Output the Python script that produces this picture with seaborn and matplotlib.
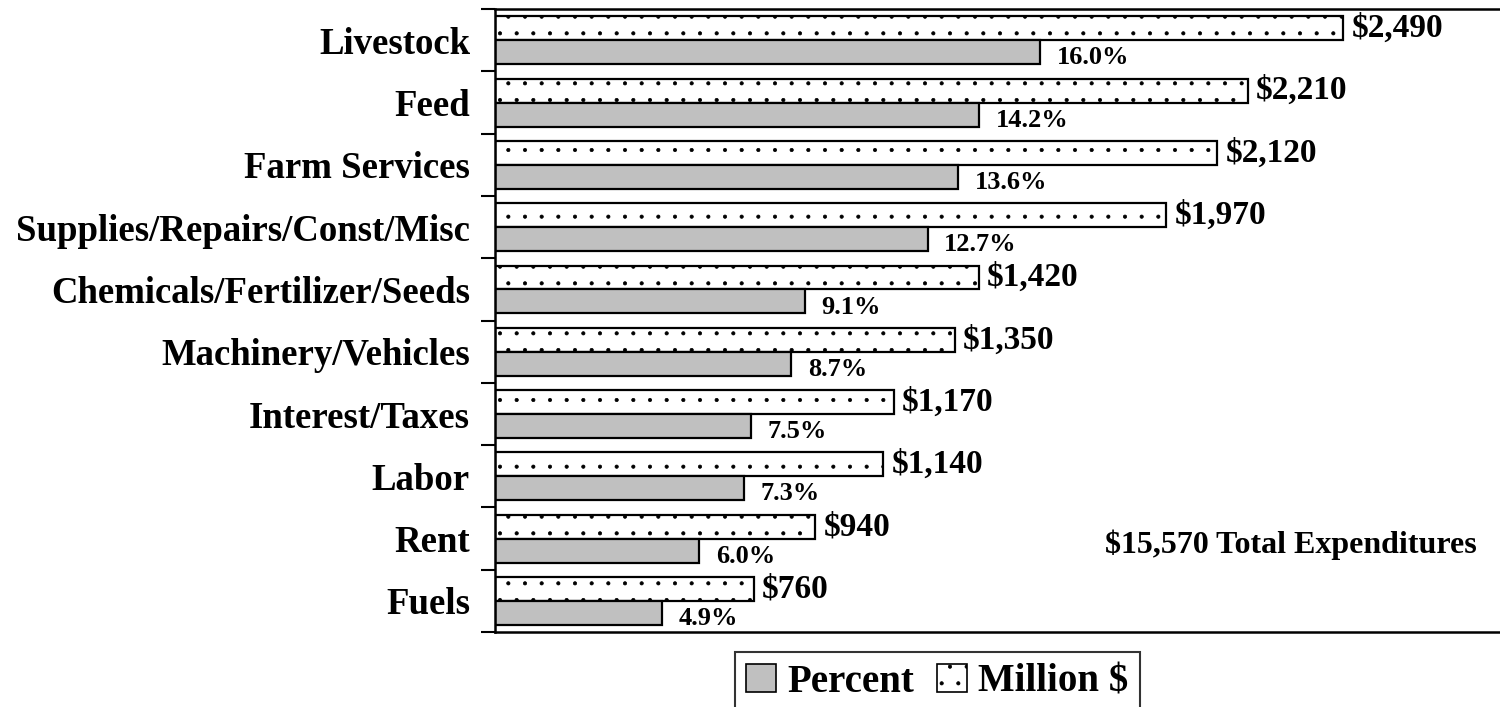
import pandas as pd
import matplotlib.pyplot as plt
import seaborn as sns
from matplotlib.patches import Patch

# Datos
categorias = ['Livestock', 'Feed', 'Farm Services', 'Supplies/Repairs/Const/Misc',
              'Chemicals/Fertilizer/Seeds', 'Machinery/Vehicles', 'Interest/Taxes',
              'Labor', 'Rent', 'Fuels']
millones = [2490, 2210, 2120, 1970, 1420, 1350, 1170, 1140, 940, 760]
porcentaje = [16.0, 14.2, 13.6, 12.7, 9.1, 8.7, 7.5, 7.3, 6.0, 4.9]
total_txt = '$15,570 Total Expenditures'

# Tabla larga; el porcentaje se dibuja en la misma escala (x100)
df = pd.concat([
    pd.DataFrame({'cat': categorias, 'serie': 'Million $', 'valor': millones}),
    pd.DataFrame({'cat': categorias, 'serie': 'Percent', 'valor': [p * 100 for p in porcentaje]}),
])

sns.set_style('white')
plt.rcParams['font.family'] = ['Liberation Serif', 'DejaVu Serif']
plt.rcParams['font.weight'] = 'bold'
plt.rcParams['text.color'] = 'black'
plt.rcParams['ytick.color'] = 'black'
plt.rcParams['ytick.labelcolor'] = 'black'
plt.rcParams['hatch.linewidth'] = 0.5
plt.rcParams['hatch.color'] = '#222222'

fig = plt.figure(figsize=(15, 7.07), dpi=100)
ax = fig.add_axes([0.330, 0.106, 0.670, 0.881])

sns.barplot(data=df, y='cat', x='valor', hue='serie', order=categorias,
            hue_order=['Million $', 'Percent'], orient='h', width=0.77, gap=0,
            palette={'Million $': 'white', 'Percent': '#c0c0c0'},
            edgecolor='black', linewidth=1.6, legend=False, ax=ax)

cont_mill, cont_pct = ax.containers[0], ax.containers[1]
for p in cont_mill:
    p.set_hatch('.')

# Etiquetas de valores
for p, v in zip(cont_mill, millones):
    ax.annotate(f'${v:,}', (p.get_x() + p.get_width(), p.get_y() + p.get_height() / 2),
                xytext=(6, 0), textcoords='offset points', ha='left', va='center',
                fontsize=24, fontweight='bold', color='black')
for p, v in zip(cont_pct, porcentaje):
    ax.annotate(f'{v:.1f}%', (p.get_x() + p.get_width(), p.get_y() + p.get_height() / 2),
                xytext=(12, -4), textcoords='offset points', ha='left', va='center',
                fontsize=19, fontweight='bold', color='black')

ax.text(0.792, 0.14, total_txt, transform=ax.transAxes, ha='center', va='center',
        fontsize=23, fontweight='bold', color='black')

ax.set_xlim(0, 2950)
ax.set_ylim(9.5, -0.5)
ax.set_xlabel('')
ax.set_ylabel('')
ax.set_xticks([])
ax.tick_params(axis='y', which='major', length=0, labelsize=26.5, pad=18)
ax.set_yticks([i - 0.5 for i in range(11)], minor=True)
ax.tick_params(axis='y', which='minor', left=True, length=10, width=1.5,
               direction='out', color='black')
for lab in ax.get_yticklabels():
    lab.set_fontweight('bold')
for s in ['left', 'top', 'bottom']:
    ax.spines[s].set_visible(True)
    ax.spines[s].set_color('black')
    ax.spines[s].set_linewidth(1.8)
ax.spines['right'].set_visible(False)

handles = [Patch(facecolor='#c0c0c0', edgecolor='black', linewidth=1.2, label='Percent'),
           Patch(facecolor='white', edgecolor='black', linewidth=1.2, hatch='.', label='Million $')]
leg = fig.legend(handles=handles, loc='upper center', bbox_to_anchor=(0.625, 0.078),
                 ncol=2, frameon=True, fancybox=False, handlelength=0.75,
                 handleheight=0.75, handletextpad=0.3, columnspacing=0.6, borderpad=0.3,
                 borderaxespad=0, prop={'weight': 'bold', 'size': 28})
leg.get_frame().set_edgecolor('black')
leg.get_frame().set_linewidth(1.5)

plt.savefig('out.png', dpi=100)
